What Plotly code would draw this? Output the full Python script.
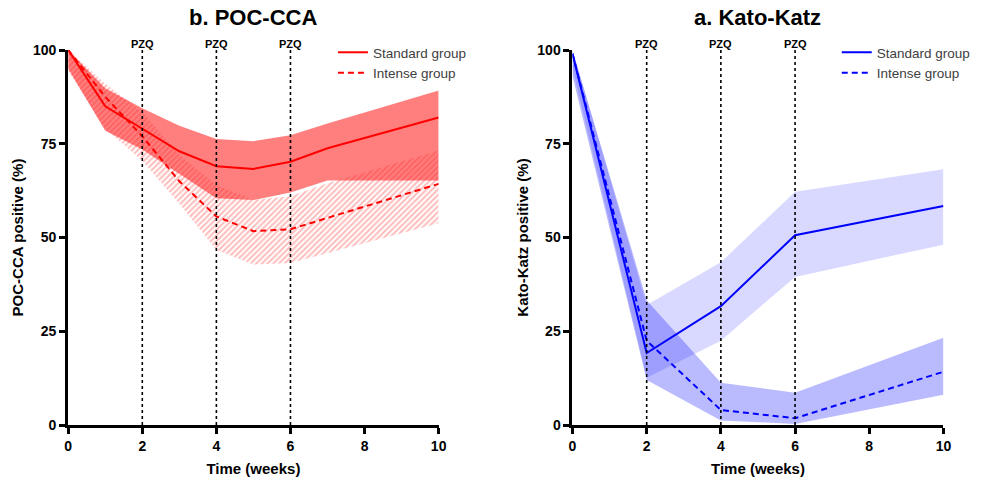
import plotly.graph_objects as go

# ---------------- data ----------------
weeks_cca = [0, 1, 2, 3, 4, 5, 6, 7, 10]
cca_std = [100, 85, 79, 73, 69, 68.3, 70.2, 73.8, 82]
cca_std_lo = [95, 78.5, 73.5, 67, 60.5, 60, 62, 65.2, 65.2]
cca_std_hi = [100, 89.8, 84.5, 79.8, 76.3, 75.7, 77.3, 80.4, 89.2]
cca_int = [100, 87.5, 77, 65, 55.6, 51.7, 52.2, 55.2, 64.3]
cca_int_lo = [94.5, 79, 70.5, 59, 46.7, 42.8, 43.2, 45.8, 53.8]
cca_int_hi = [100, 91, 83.5, 72, 64, 60, 61, 64.5, 73.2]

weeks_kk = [0, 2, 4, 6, 10]
kk_std = [99, 19.2, 31.7, 50.6, 58.4]
kk_std_lo = [95, 12.6, 22.5, 39.5, 48.1]
kk_std_hi = [100, 32, 43.4, 62.2, 68.2]
kk_int = [99, 22.5, 4, 1.8, 14.2]
kk_int_lo = [93, 12, 1.2, 0.3, 8.1]
kk_int_hi = [100, 33.3, 11.3, 8.6, 23.3]

pzq_weeks = [2, 4, 6]
x_ticks = [0, 2, 4, 6, 8, 10]
y_ticks = [0, 25, 50, 75, 100]
group_names = ["Standard group", "Intense group"]
panel_titles = ["b. POC-CCA", "a. Kato-Katz"]
y_titles = ["POC-CCA positive (%)", "Kato-Katz positive (%)"]
x_title = "Time (weeks)"

FONT = "Liberation Sans, Arial, sans-serif"
RED = "#ff0000"
BLUE = "#0000ff"

fig = go.Figure()

# ---------- Left panel: POC-CCA ----------
fig.add_trace(go.Scatter(x=weeks_cca, y=cca_std_lo, mode="lines", line=dict(width=0),
                         showlegend=False, hoverinfo="skip", xaxis="x", yaxis="y"))
fig.add_trace(go.Scatter(x=weeks_cca, y=cca_std_hi, mode="lines", line=dict(width=0),
                         fill="tonexty", fillcolor="rgba(255,0,0,0.5)",
                         showlegend=False, hoverinfo="skip", xaxis="x", yaxis="y"))
fig.add_trace(go.Scatter(x=weeks_cca, y=cca_int_lo, mode="lines", line=dict(width=0),
                         showlegend=False, hoverinfo="skip", xaxis="x", yaxis="y"))
fig.add_trace(go.Scatter(x=weeks_cca, y=cca_int_hi, mode="lines", line=dict(width=0),
                         fill="tonexty", fillcolor="rgba(0,0,0,0)",
                         fillpattern=dict(shape="/", fgcolor="rgba(255,30,30,0.6)",
                                          bgcolor="rgba(0,0,0,0)", size=4, solidity=0.5),
                         showlegend=False, hoverinfo="skip", xaxis="x", yaxis="y"))
fig.add_trace(go.Scatter(x=weeks_cca, y=cca_std, mode="lines", name=group_names[0],
                         line=dict(color=RED, width=2), xaxis="x", yaxis="y", legend="legend"))
fig.add_trace(go.Scatter(x=weeks_cca, y=cca_int, mode="lines", name=group_names[1],
                         line=dict(color=RED, width=2, dash="6px,4px"), xaxis="x", yaxis="y",
                         legend="legend"))

# ---------- Right panel: Kato-Katz ----------
fig.add_trace(go.Scatter(x=weeks_kk, y=kk_std_lo, mode="lines", line=dict(width=0),
                         showlegend=False, hoverinfo="skip", xaxis="x2", yaxis="y2"))
fig.add_trace(go.Scatter(x=weeks_kk, y=kk_std_hi, mode="lines", line=dict(width=0),
                         fill="tonexty", fillcolor="rgba(0,0,255,0.15)",
                         showlegend=False, hoverinfo="skip", xaxis="x2", yaxis="y2"))
fig.add_trace(go.Scatter(x=weeks_kk, y=kk_int_lo, mode="lines", line=dict(width=0),
                         showlegend=False, hoverinfo="skip", xaxis="x2", yaxis="y2"))
fig.add_trace(go.Scatter(x=weeks_kk, y=kk_int_hi, mode="lines", line=dict(width=0),
                         fill="tonexty", fillcolor="rgba(0,0,255,0.27)",
                         showlegend=False, hoverinfo="skip", xaxis="x2", yaxis="y2"))
fig.add_trace(go.Scatter(x=weeks_kk, y=kk_std, mode="lines", name=group_names[0],
                         line=dict(color=BLUE, width=2), xaxis="x2", yaxis="y2", legend="legend2"))
fig.add_trace(go.Scatter(x=weeks_kk, y=kk_int, mode="lines", name=group_names[1],
                         line=dict(color=BLUE, width=2, dash="6px,4px"), xaxis="x2", yaxis="y2",
                         legend="legend2"))

W, H = 986, 481
L_DOM = [65 / W, 440 / W]
R_DOM = [575.5 / W, 951 / W]

axis_common = dict(
    showgrid=False, zeroline=False, showline=True, linecolor="black", linewidth=3,
    ticks="outside", ticklen=6, tickwidth=3, tickcolor="black",
    tickfont=dict(family=FONT, size=14, color="black", weight="bold"),
)
title_font = dict(family=FONT, size=15, color="black", weight="bold")

shapes = []
annotations = []
for xr, yr in (("x", "y"), ("x2", "y2")):
    for wk in pzq_weeks:
        shapes.append(dict(type="line", xref=xr, yref=yr, x0=wk, x1=wk, y0=0, y1=100,
                           line=dict(color="black", width=1.6, dash="dot"), layer="above"))
        annotations.append(dict(xref=xr, yref="paper", x=wk, y=1, yshift=14, text="PZQ",
                                xanchor="center", showarrow=False,
                                font=dict(family=FONT, size=11, color="black", weight="bold")))

for i, dom in enumerate((L_DOM, R_DOM)):
    annotations.append(dict(xref="paper", yref="paper", x=(dom[0] + dom[1]) / 2, y=1,
                            yshift=33, xanchor="center", yanchor="middle",
                            text=panel_titles[i], showarrow=False,
                            font=dict(family=FONT, size=22, color="black", weight="bold")))

legend_common = dict(xanchor="left", yanchor="top", bgcolor="rgba(0,0,0,0)",
                     font=dict(family=FONT, size=13.5, color="#404040"),
                     tracegroupgap=0, itemwidth=30, traceorder="normal")

fig.update_layout(
    width=W, height=H,
    margin=dict(l=0, r=0, t=50, b=56),
    paper_bgcolor="white", plot_bgcolor="white",
    font=dict(family=FONT),
    xaxis=dict(domain=L_DOM, range=[0, 10], tickvals=x_ticks, anchor="y",
               title=dict(text=x_title, font=title_font, standoff=11), **axis_common),
    yaxis=dict(domain=[0, 1], range=[0, 100], tickvals=y_ticks, anchor="x",
               title=dict(text=y_titles[0], font=title_font, standoff=6), **axis_common),
    xaxis2=dict(domain=R_DOM, range=[0, 10], tickvals=x_ticks, anchor="y2",
                title=dict(text=x_title, font=title_font, standoff=11), **axis_common),
    yaxis2=dict(domain=[0, 1], range=[0, 100], tickvals=y_ticks, anchor="x2",
                title=dict(text=y_titles[1], font=title_font, standoff=6), **axis_common),
    legend=dict(x=333 / W, y=(425 - 37) / 375, **legend_common),
    legend2=dict(x=843 / W, y=(425 - 37) / 375, **legend_common),
    shapes=shapes,
    annotations=annotations,
    showlegend=True,
)

fig.write_html("out.html")
